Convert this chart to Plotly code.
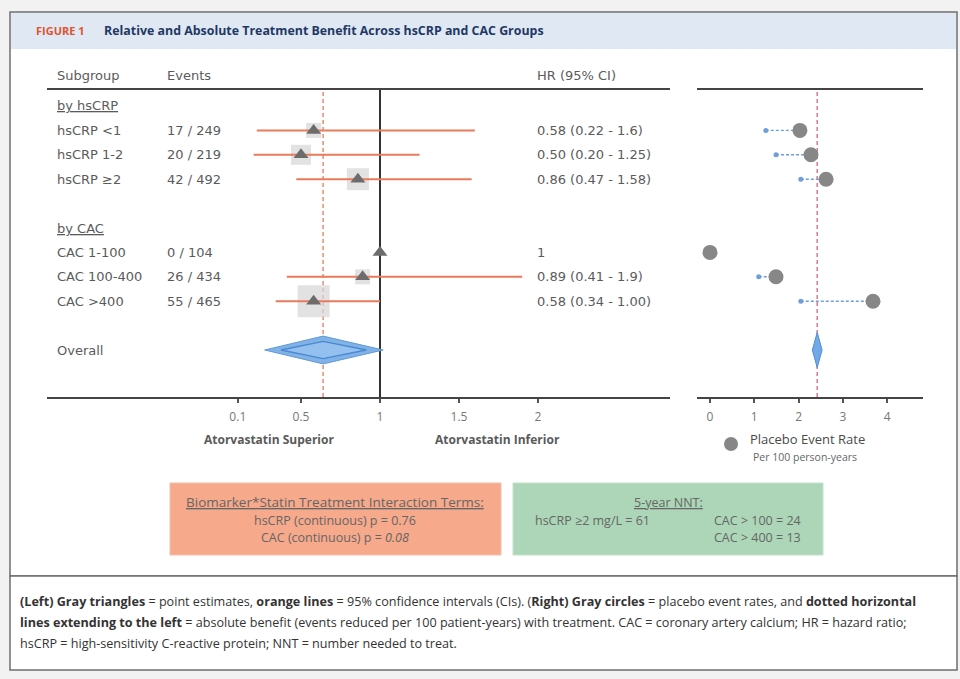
import plotly.graph_objects as go

# ---------------- data ----------------
subgroups = ["hsCRP <1", "hsCRP 1-2", "hsCRP \u22652", "CAC 1-100", "CAC 100-400", "CAC >400"]
events = ["17 / 249", "20 / 219", "42 / 492", "0 / 104", "26 / 434", "55 / 465"]
hr = [0.58, 0.50, 0.86, 1.00, 0.89, 0.58]
ci_lo = [0.22, 0.20, 0.47, None, 0.41, 0.34]
ci_hi = [1.60, 1.25, 1.58, None, 1.90, 1.00]
hr_text = ["0.58 (0.22 - 1.6)", "0.50 (0.20 - 1.25)", "0.86 (0.47 - 1.58)", "1",
           "0.89 (0.41 - 1.9)", "0.58 (0.34 - 1.00)"]
weight = [15, 20, 22, 0, 15, 32]          # relative weight (gray square)
row_pos = [2, 3, 4, 7, 8, 9]
group_headers = ["by hsCRP", "by CAC"]
group_rows = [1, 6]
overall_row = 11
overall_hr, overall_lo, overall_hi = 0.64, 0.27, 1.02

placebo_rate = [2.03, 2.28, 2.62, 0.0, 1.49, 3.68]
treated_rate = [1.26, 1.49, 2.05, None, 1.10, 2.05]
overall_rate, overall_rate_lo, overall_rate_hi = 2.42, 2.31, 2.53

hr_ticks = [0.1, 0.5, 1, 1.5, 2]
hr_ticktext = ["0.1", "0.5", "1", "1.5", "2"]
rate_ticks = [0, 1, 2, 3, 4]

# ---------------- helpers ----------------
W, H = 960, 679
def px(x):
    return x / W
def py(y):
    return 1 - y / H

FONT = "DejaVu Sans"
FONT2 = "Open Sans"
TXT = "#5b5b5b"

Y_TOP, Y_BOT = 90, 397
ROW1_PX, ROW_STEP = 106, 24.4
yrange = [1 + (Y_BOT - ROW1_PX) / ROW_STEP, 1 + (Y_TOP - ROW1_PX) / ROW_STEP]

L_X0, L_X1 = 47, 670
HR0_PX, HR_SCALE = 222, 158
xrange_l = [(L_X0 - HR0_PX) / HR_SCALE, (L_X1 - HR0_PX) / HR_SCALE]
R_X0, R_X1 = 697, 923
R0_PX, R_SCALE = 710, 44.3
xrange_r = [(R_X0 - R0_PX) / R_SCALE, (R_X1 - R0_PX) / R_SCALE]

fig = go.Figure()

# gray weight squares
sq_x = [h for h, w in zip(hr, weight) if w > 0]
sq_y = [r for r, w in zip(row_pos, weight) if w > 0]
sq_s = [w for w in weight if w > 0]
fig.add_trace(go.Scatter(x=sq_x, y=sq_y, mode="markers",
                         marker=dict(symbol="square", size=sq_s, color="#d5d5d5", line=dict(width=0)),
                         xaxis="x", yaxis="y", hoverinfo="skip"))

# CI lines
lx, ly = [], []
for lo, hi, r in zip(ci_lo, ci_hi, row_pos):
    if lo is None:
        continue
    lx += [lo, hi, None]
    ly += [r, r, None]
fig.add_trace(go.Scatter(x=lx, y=ly, mode="lines", line=dict(color="#e97a5c", width=2),
                         xaxis="x", yaxis="y", hoverinfo="skip"))

# triangles
fig.add_trace(go.Scatter(x=hr, y=row_pos, mode="markers",
                         marker=dict(symbol="triangle-up", size=13, color="#6c6c6c", line=dict(width=0)),
                         xaxis="x", yaxis="y"))

# overall diamond (outer + inner outline)
dh = 0.57
fig.add_trace(go.Scatter(
    x=[overall_lo, overall_hr, overall_hi, overall_hr, overall_lo],
    y=[overall_row, overall_row - dh, overall_row, overall_row + dh, overall_row],
    mode="lines", fill="toself", fillcolor="#80b2e6", line=dict(color="#5f9bd9", width=1),
    xaxis="x", yaxis="y", hoverinfo="skip"))
ilo = overall_hr - (overall_hr - overall_lo) * 0.72
ihi = overall_hr + (overall_hi - overall_hr) * 0.72
idh = dh * 0.62
fig.add_trace(go.Scatter(
    x=[ilo, overall_hr, ihi, overall_hr, ilo],
    y=[overall_row, overall_row - idh, overall_row, overall_row + idh, overall_row],
    mode="lines", fill="toself", fillcolor="#93c0ee", line=dict(color="#4a89d2", width=1.3),
    xaxis="x", yaxis="y", hoverinfo="skip"))

# right panel: dotted benefit lines
bx, by = [], []
ex, ey = [], []
for p, t, r in zip(placebo_rate, treated_rate, row_pos):
    if t is None:
        continue
    bx += [t, p, None]
    by += [r, r, None]
    ex.append(t)
    ey.append(r)
fig.add_trace(go.Scatter(x=bx, y=by, mode="lines", line=dict(color="#6f9fd8", width=1.4, dash="3px,2px"),
                         xaxis="x2", yaxis="y2", hoverinfo="skip"))
fig.add_trace(go.Scatter(x=ex, y=ey, mode="markers", marker=dict(size=5, color="#6f9fd8"),
                         xaxis="x2", yaxis="y2", hoverinfo="skip"))
fig.add_trace(go.Scatter(x=placebo_rate, y=row_pos, mode="markers",
                         marker=dict(size=15, color="#878787", line=dict(width=0)),
                         xaxis="x2", yaxis="y2"))
rdh = 0.72
fig.add_trace(go.Scatter(
    x=[overall_rate_lo, overall_rate, overall_rate_hi, overall_rate, overall_rate_lo],
    y=[overall_row, overall_row - rdh, overall_row, overall_row + rdh, overall_row],
    mode="lines", fill="toself", fillcolor="#72a9e6", line=dict(color="#4f8ed8", width=1),
    xaxis="x2", yaxis="y2", hoverinfo="skip"))

# ---------------- layout ----------------
axis_common = dict(showgrid=False, zeroline=False, showline=True, linecolor="#444", linewidth=1.5,
                   mirror=True, ticks="outside", ticklen=4, tickwidth=1.5, tickcolor="#555",
                   tickfont=dict(family=FONT2, size=12, color="#777"), ticklabelstandoff=4)
fig.update_layout(
    width=W, height=H, autosize=False,
    margin=dict(l=0, r=0, t=0, b=0),
    paper_bgcolor="#f2f2f2", plot_bgcolor="rgba(0,0,0,0)",
    showlegend=False,
    xaxis=dict(domain=[px(L_X0), px(L_X1)], range=xrange_l, tickvals=hr_ticks, ticktext=hr_ticktext,
               anchor="y", **axis_common),
    yaxis=dict(domain=[py(Y_BOT), py(Y_TOP)], range=yrange, visible=False),
    xaxis2=dict(domain=[px(R_X0), px(R_X1)], range=xrange_r, tickvals=rate_ticks,
                anchor="y2", **axis_common),
    yaxis2=dict(domain=[py(Y_BOT), py(Y_TOP)], range=yrange, visible=False, anchor="x2"),
)

shapes = []
# page frames
shapes.append(dict(type="rect", xref="paper", yref="paper", x0=px(10), x1=px(957), y0=py(576), y1=py(12),
                   fillcolor="white", line=dict(color="#6e6e6e", width=1.5), layer="below"))
shapes.append(dict(type="rect", xref="paper", yref="paper", x0=px(11), x1=px(956), y0=py(49), y1=py(13),
                   fillcolor="#dfe8f3", line=dict(width=0), layer="below"))
shapes.append(dict(type="rect", xref="paper", yref="paper", x0=px(10), x1=px(957), y0=py(670), y1=py(576),
                   fillcolor="white", line=dict(color="#6e6e6e", width=1.5), layer="below"))
# interaction / NNT boxes
shapes.append(dict(type="rect", xref="paper", yref="paper", x0=px(170), x1=px(501), y0=py(555), y1=py(483),
                   fillcolor="#f6a98b", line=dict(color="#f0c0ad", width=1), layer="below"))
shapes.append(dict(type="rect", xref="paper", yref="paper", x0=px(513), x1=px(823), y0=py(555), y1=py(483),
                   fillcolor="#acd6b7", line=dict(color="#c3e2cb", width=1), layer="below"))
# reference lines
shapes.append(dict(type="line", xref="x", yref="y domain", x0=1, x1=1, y0=0, y1=1,
                   line=dict(color="#333", width=2), layer="below"))
shapes.append(dict(type="line", xref="x", yref="y domain", x0=overall_hr, x1=overall_hr, y0=0, y1=1,
                   line=dict(color="#ee8a6c", width=1.5, dash="4px,3px"), layer="below"))
shapes.append(dict(type="line", xref="x2", yref="y2 domain", x0=overall_rate, x1=overall_rate, y0=0, y1=1,
                   line=dict(color="#d77a8a", width=1.5, dash="4px,3px"), layer="below"))
# legend circle
shapes.append(dict(type="circle", xref="paper", yref="paper", x0=px(724), x1=px(738), y0=py(451), y1=py(437),
                   fillcolor="#878787", line=dict(width=0)))
fig.update_layout(shapes=shapes)

ann = []
def text(x, y, s, size=13, color=TXT, family=FONT, anchor="left", yref="paper"):
    ann.append(dict(x=x, y=y, xref="paper", yref=yref, text=s, showarrow=False,
                    xanchor=anchor, yanchor="middle", font=dict(family=family, size=size, color=color)))

# title
text(px(34), py(31), "<b>FIGURE 1</b>", size=11, color="#e0532e", family=FONT2)
text(px(102), py(31), "<b>Relative and Absolute Treatment Benefit Across hsCRP and CAC Groups</b>",
     size=12.4, color="#1f3864", family=FONT2)
# column headers
text(px(55), py(75), "Subgroup")
text(px(165), py(75), "Events")
text(px(535), py(75), "HR (95% CI)")
for g, r in zip(group_headers, group_rows):
    text(px(55), r, "<u>" + g + "</u>", yref="y")
for s, e, h, r in zip(subgroups, events, hr_text, row_pos):
    text(px(55), r, s, yref="y")
    text(px(165), r, e, yref="y")
    text(px(535), r, h, yref="y")
text(px(55), overall_row, "Overall", yref="y")
# axis captions
text(px(269), py(439), "<b>Atorvastatin Superior</b>", size=12, color="#5a5a5a", family=FONT2, anchor="center")
text(px(497), py(439), "<b>Atorvastatin Inferior</b>", size=12, color="#5a5a5a", family=FONT2, anchor="center")
text(px(748), py(439), "Placebo Event Rate", size=13, color="#4a4a4a", family=FONT2)
text(px(751), py(457), "Per 100 person-years", size=10.5, color="#666", family=FONT2)
# boxes
text(px(335), py(502), "<u>Biomarker*Statin Treatment Interaction Terms:</u>", size=13.5, color="#666",
     family=FONT2, anchor="center")
text(px(335), py(520), "hsCRP (continuous) p = 0.76", size=12.5, color="#666", family=FONT2, anchor="center")
text(px(335), py(537), "CAC (continuous) p = <i>0.08</i>", size=12.5, color="#666", family=FONT2, anchor="center")
text(px(668), py(502), "<u>5-year NNT:</u>", size=12.5, color="#666", family=FONT2, anchor="center")
text(px(533), py(520), "hsCRP \u22652 mg/L = 61", size=12.5, color="#666", family=FONT2)
text(px(803), py(520), "CAC > 100 = 24", size=12.5, color="#666", family=FONT2, anchor="right")
text(px(803), py(537), "CAC > 400 = 13", size=12.5, color="#666", family=FONT2, anchor="right")
# caption
cap1 = ("<b>(Left) Gray triangles</b> = point estimates, <b>orange lines</b> = 95% confidence intervals (CIs). "
        "(<b>Right) Gray circles</b> = placebo event rates, and <b>dotted horizontal</b>")
cap2 = ("<b>lines extending to the left</b> = absolute benefit (events reduced per 100 patient-years) with treatment. "
        "CAC = coronary artery calcium; HR = hazard ratio;")
cap3 = "hsCRP = high-sensitivity C-reactive protein; NNT = number needed to treat."
text(px(18), py(601), cap1, size=12.6, color="#333", family=FONT2)
text(px(18), py(622), cap2, size=12.6, color="#333", family=FONT2)
text(px(18), py(643), cap3, size=12.6, color="#333", family=FONT2)
fig.update_layout(annotations=ann)

fig.write_html("out.html", config={"displayModeBar": False},
               post_script="document.body.style.margin='0';document.body.style.padding='0';")
